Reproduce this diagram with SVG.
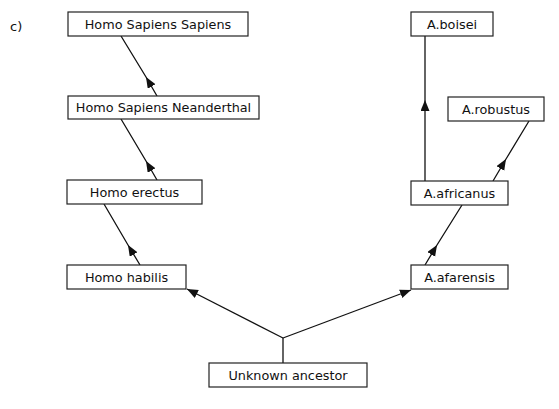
<svg xmlns="http://www.w3.org/2000/svg" width="559" height="409" viewBox="0 0 559 409">
<style>
.box{fill:#fff;stroke:#222;stroke-width:1.2}
.t{font-family:"DejaVu Sans",Verdana,sans-serif;font-size:12.8px;fill:#111;text-anchor:middle}
.c{fill:none;stroke:#111;stroke-width:1.3}
</style>
<defs>
<marker id="ah" markerUnits="userSpaceOnUse" markerWidth="12" markerHeight="10" refX="11" refY="4.5" orient="auto">
<path d="M0,0 L11,4.5 L0,9 z" fill="#111"/>
</marker>
</defs>
<rect width="559" height="409" fill="#fff"/>
<text x="10" y="31" style="font-family:'DejaVu Sans',Verdana,sans-serif;font-size:13px;fill:#111">c)</text>
<g id="connectors">
<path class="c" d="M157,96 L146,77 L121,36" marker-mid="url(#ah)"/>
<path class="c" d="M157,180 L146,161 L121,119" marker-mid="url(#ah)"/>
<path class="c" d="M140,265 L128,245 L104,204" marker-mid="url(#ah)"/>
<path class="c" d="M425,265 L437,245 L462,205" marker-mid="url(#ah)"/>
<path class="c" d="M493,181 L506,159 L529,121" marker-mid="url(#ah)"/>
<path class="c" d="M425,181 L425,100 L425,36" marker-mid="url(#ah)"/>
<path class="c" d="M283,363 L283,338"/>
<path class="c" d="M283,338 L187,289" marker-end="url(#ah)"/>
<path class="c" d="M283,338 L411,290" marker-end="url(#ah)"/>
</g>
<g id="hss"><rect class="box" x="68" y="12" width="180" height="24"/><text class="t" x="158" y="29">Homo Sapiens Sapiens</text></g>
<g id="hsn"><rect class="box" x="68" y="96" width="191" height="23"/><text class="t" x="163.5" y="112">Homo Sapiens Neanderthal</text></g>
<g id="erectus"><rect class="box" x="67" y="180" width="135" height="24"/><text class="t" x="134.5" y="197">Homo erectus</text></g>
<g id="habilis"><rect class="box" x="67" y="265" width="119" height="24"/><text class="t" x="126.5" y="282">Homo habilis</text></g>
<g id="boisei"><rect class="box" x="411" y="12" width="82" height="24"/><text class="t" x="452" y="29">A.boisei</text></g>
<g id="robustus"><rect class="box" x="448" y="97" width="96" height="24"/><text class="t" x="496" y="114">A.robustus</text></g>
<g id="africanus"><rect class="box" x="411" y="181" width="97" height="24"/><text class="t" x="459.5" y="198">A.africanus</text></g>
<g id="afarensis"><rect class="box" x="411" y="265" width="97" height="24"/><text class="t" x="459.5" y="282">A.afarensis</text></g>
<g id="ancestor"><rect class="box" x="209" y="363" width="158" height="24"/><text class="t" x="288" y="380">Unknown ancestor</text></g>
</svg>
